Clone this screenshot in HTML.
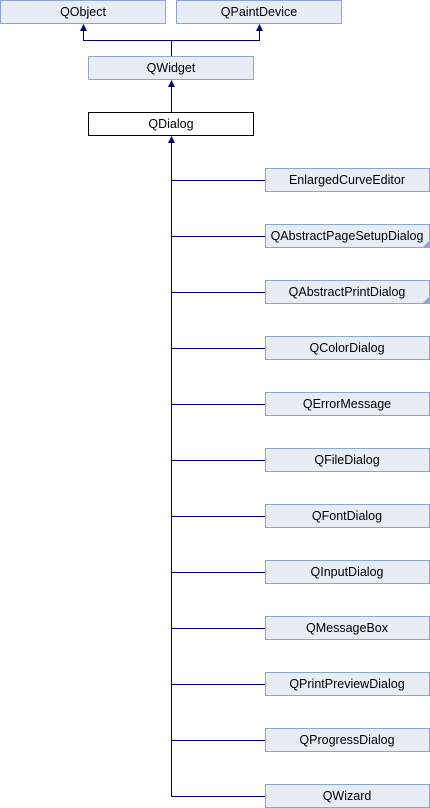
<!DOCTYPE html>
<html><head><meta charset="utf-8"><style>html,body{margin:0;padding:0;background:#fff}svg{display:block}text{font-family:"Liberation Sans",sans-serif;font-size:12.5px;fill:#000;text-anchor:middle}</style></head><body>
<svg width="430" height="808" viewBox="0 0 430 808">
<g fill="#e8ecf5" stroke="#8ea4d2">
<rect x="0.5" y="0.5" width="165" height="23"/>
<rect x="176.5" y="0.5" width="165" height="23"/>
<rect x="88.5" y="56.5" width="165" height="23"/>
<rect x="88.5" y="112.5" width="165" height="23" fill="#fff" stroke="#000"/>
</g>
<g fill="none" stroke="#000080" stroke-width="1">
<path d="M83.5 30V40.5H259.5V30"/>
<path d="M171.5 40V56"/>
<path d="M171.5 86V112"/>
<path d="M171.5 142V796"/>
</g>
<g fill="#000080">
<polygon points="83.5,24 80,31 87,31"/>
<polygon points="259.5,24 256,31 263,31"/>
<polygon points="171.5,80 168,87 175,87"/>
<polygon points="171.5,136 168,143 175,143"/>
</g>
<text x="83" y="16">QObject</text>
<text x="259" y="16">QPaintDevice</text>
<text x="171" y="72">QWidget</text>
<text x="171" y="128">QDialog</text>
<g id="kids"></g>
</svg>
<script>
var n=["EnlargedCurveEditor","QAbstractPageSetupDialog","QAbstractPrintDialog","QColorDialog","QErrorMessage","QFileDialog","QFontDialog","QInputDialog","QMessageBox","QPrintPreviewDialog","QProgressDialog","QWizard"];
var s="";n.forEach(function(t,i){var y=168+i*56;
s+='<line x1="171" y1="'+(y+12.5)+'" x2="265" y2="'+(y+12.5)+'" stroke="#000080"/>';
s+='<rect x="265.5" y="'+(y+0.5)+'" width="164" height="23" fill="#e8ecf5" stroke="#8ea4d2"/>';
if(i==1||i==2)s+='<polygon points="429,'+(y+17)+' 429,'+(y+23)+' 423,'+(y+23)+'" fill="#8ea4d2"/>';
s+='<text x="347" y="'+(y+16)+'">'+t+'</text>';});
document.getElementById("kids").innerHTML=s;
</script>
</body></html>
